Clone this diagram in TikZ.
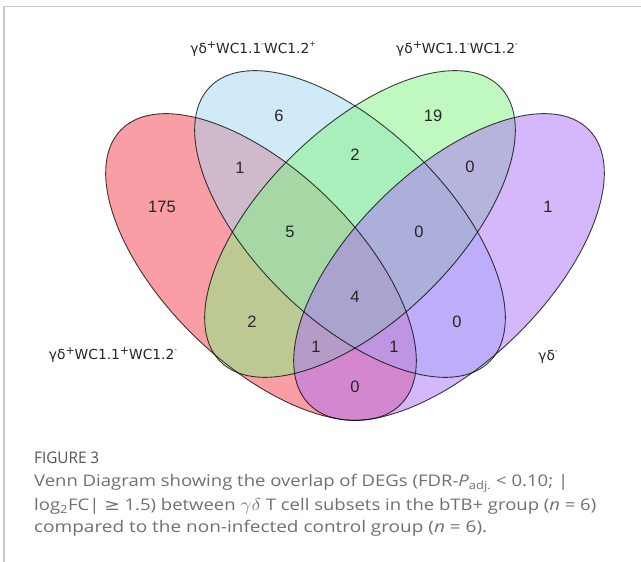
\documentclass[tikz,border=0pt]{standalone}
\usepackage{fontspec}
\setmainfont{Open Sans}
\newfontfamily\lblfont{DejaVu Sans}
\newfontfamily\numfont{Liberation Sans}
\newfontfamily\symfont{DejaVu Sans}
\definecolor{vred}{RGB}{245,62,75}
\definecolor{vblue}{RGB}{165,215,241}
\definecolor{vgreen}{RGB}{131,245,131}
\definecolor{vpurple}{RGB}{173,113,249}
\definecolor{framegray}{RGB}{200,200,200}
\definecolor{capgray}{RGB}{112,112,112}
\definecolor{headgray}{RGB}{85,85,85}
\newcommand\bigsp[1]{\raisebox{0.42em}{\fontsize{11}{11}\selectfont #1}}
\newcommand\smsp[1]{\raisebox{0.55em}{\fontsize{7.5}{7.5}\selectfont #1}}
\newcommand\capline[2]{\resizebox{#1pt}{\height}{#2}}
\tikzset{
  setfill/.style={fill=#1, fill opacity=0.5},
  setline/.style={draw=black, draw opacity=0.75, line width=0.9pt},
  venn/.style={x radius=196, y radius=96},
  numtext/.style={font=\numfont\fontsize{16.5}{18}\selectfont, text=black!85, inner sep=0pt},
  lbltext/.style={font=\lblfont\fontsize{13.8}{16}\selectfont, text=black!85, inner sep=0pt},
  captext/.style={font=\fontsize{16}{19}\selectfont, text=capgray, anchor=base west, inner sep=0pt}
}
\begin{document}
\begin{tikzpicture}[x=1pt,y=1pt]
\useasboundingbox (0,0) rectangle (641,562);
\fill[white] (0,0) rectangle (641,562);
\draw[framegray, line width=1.5pt] (4,0) -- (4,555.5) -- (641,555.5);
% ellipse centres
\coordinate (cr) at (261,295);
\coordinate (cb) at (350,338);
\coordinate (cg) at (360,338);
\coordinate (cp) at (449,295);
% fills
\fill[setfill=vred, rotate around={-44.4:(cr)}] (cr) ellipse [venn];
\fill[setfill=vblue, rotate around={-44.4:(cb)}] (cb) ellipse [venn];
\fill[setfill=vgreen, rotate around={44.4:(cg)}] (cg) ellipse [venn];
\fill[setfill=vpurple, rotate around={44.4:(cp)}] (cp) ellipse [venn];
% outlines
\draw[setline, rotate around={-44.4:(cr)}] (cr) ellipse [venn];
\draw[setline, rotate around={-44.4:(cb)}] (cb) ellipse [venn];
\draw[setline, rotate around={44.4:(cg)}] (cg) ellipse [venn];
\draw[setline, rotate around={44.4:(cp)}] (cp) ellipse [venn];
% counts
\node[numtext] (n1) at (162,355) {175};
\node[numtext] (n2) at (279,446) {6};
\node[numtext] (n3) at (433,446) {19};
\node[numtext] (n4) at (548,355) {1};
\node[numtext] (n5) at (240,394) {1};
\node[numtext] (n6) at (355,407) {2};
\node[numtext] (n7) at (470,395) {0};
\node[numtext] (n8) at (290,330) {5};
\node[numtext] (n9) at (419,330) {0};
\node[numtext] (n10) at (355,265) {4};
\node[numtext] (n11) at (252,240) {2};
\node[numtext] (n12) at (457,240) {0};
\node[numtext] (n13) at (316,215) {1};
\node[numtext] (n14) at (394,215) {1};
\node[numtext] (n15) at (355,175) {0};
% set labels
\node[lbltext] (l1) at (253,513) {γδ\bigsp{+}WC1.1\smsp{-}WC1.2\smsp{+}};
\node[lbltext] (l2) at (457,513) {γδ\bigsp{+}WC1.1\smsp{-}WC1.2\smsp{-}};
\node[lbltext] (l3) at (113,207) {γδ\bigsp{+}WC1.1\bigsp{+}WC1.2\smsp{-}};
\node[lbltext] (l4) at (548,205) {γδ\smsp{-}};
% caption
\node[captext, text=headgray] (c0) at (34,98) {\capline{65}{FIGURE 3}};
\node[captext] (c1) at (34,75.5) {\capline{534}{Venn Diagram showing the overlap of DEGs (FDR-\textit{P}\textsubscript{adj.} < 0.10; |}};
\node[captext] (c2) at (34,51.5) {\capline{562}{log\textsubscript{2}FC| {\symfont ≥} 1.5) between $\gamma\delta$ T cell subsets in the bTB+ group (\textit{n} = 6)}};
\node[captext] (c3) at (34,29.5) {\capline{453}{compared to the non-infected control group (\textit{n} = 6).}};
\end{tikzpicture}
\end{document}
